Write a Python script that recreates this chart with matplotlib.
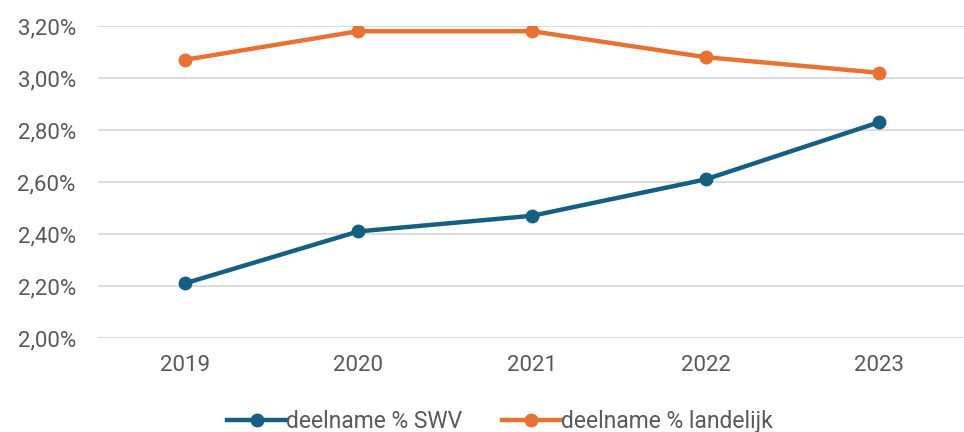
import matplotlib.pyplot as plt
from matplotlib.ticker import FuncFormatter

years = ["2019", "2020", "2021", "2022", "2023"]
swv = [2.21, 2.41, 2.47, 2.61, 2.83]
landelijk = [3.07, 3.18, 3.18, 3.08, 3.02]

plt.rcParams['font.family'] = ['Roboto', 'DejaVu Sans']

fig = plt.figure(figsize=(9.64, 4.32), dpi=100)
ax = fig.add_axes([98 / 964, 1 - 338 / 432, (966 - 98) / 964, (338 - 26) / 432])

x = range(len(years))
ax.plot(x, swv, color="#156082", lw=3.2, marker="o", ms=9, label="deelname % SWV", zorder=3)
ax.plot(x, landelijk, color="#E97132", lw=3.2, marker="o", ms=9, label="deelname % landelijk", zorder=3)

ax.set_xlim(-0.5, 4.5)
ax.set_ylim(2.0, 3.2)
ax.set_yticks([2.0, 2.2, 2.4, 2.6, 2.8, 3.0, 3.2])
ax.yaxis.set_major_formatter(FuncFormatter(lambda v, p: f"{v:.2f}%".replace(".", ",")))
ax.set_xticks(list(x))
ax.set_xticklabels(years)

ax.grid(axis="y", color="#D9D9D9", lw=1.3, zorder=0)
for s in ax.spines.values():
    s.set_visible(False)
ax.tick_params(axis="both", length=0, labelsize=16, colors="#595959")
ax.tick_params(axis="y", pad=16)
ax.tick_params(axis="x", pad=12)

leg = ax.legend(loc="lower center", bbox_to_anchor=(0.463, -0.37), ncol=2, frameon=False,
                fontsize=16.5, handlelength=2.6, handletextpad=0.0, columnspacing=1.7)
for t in leg.get_texts():
    t.set_color("#595959")

fig.savefig("out.png", dpi=100)
